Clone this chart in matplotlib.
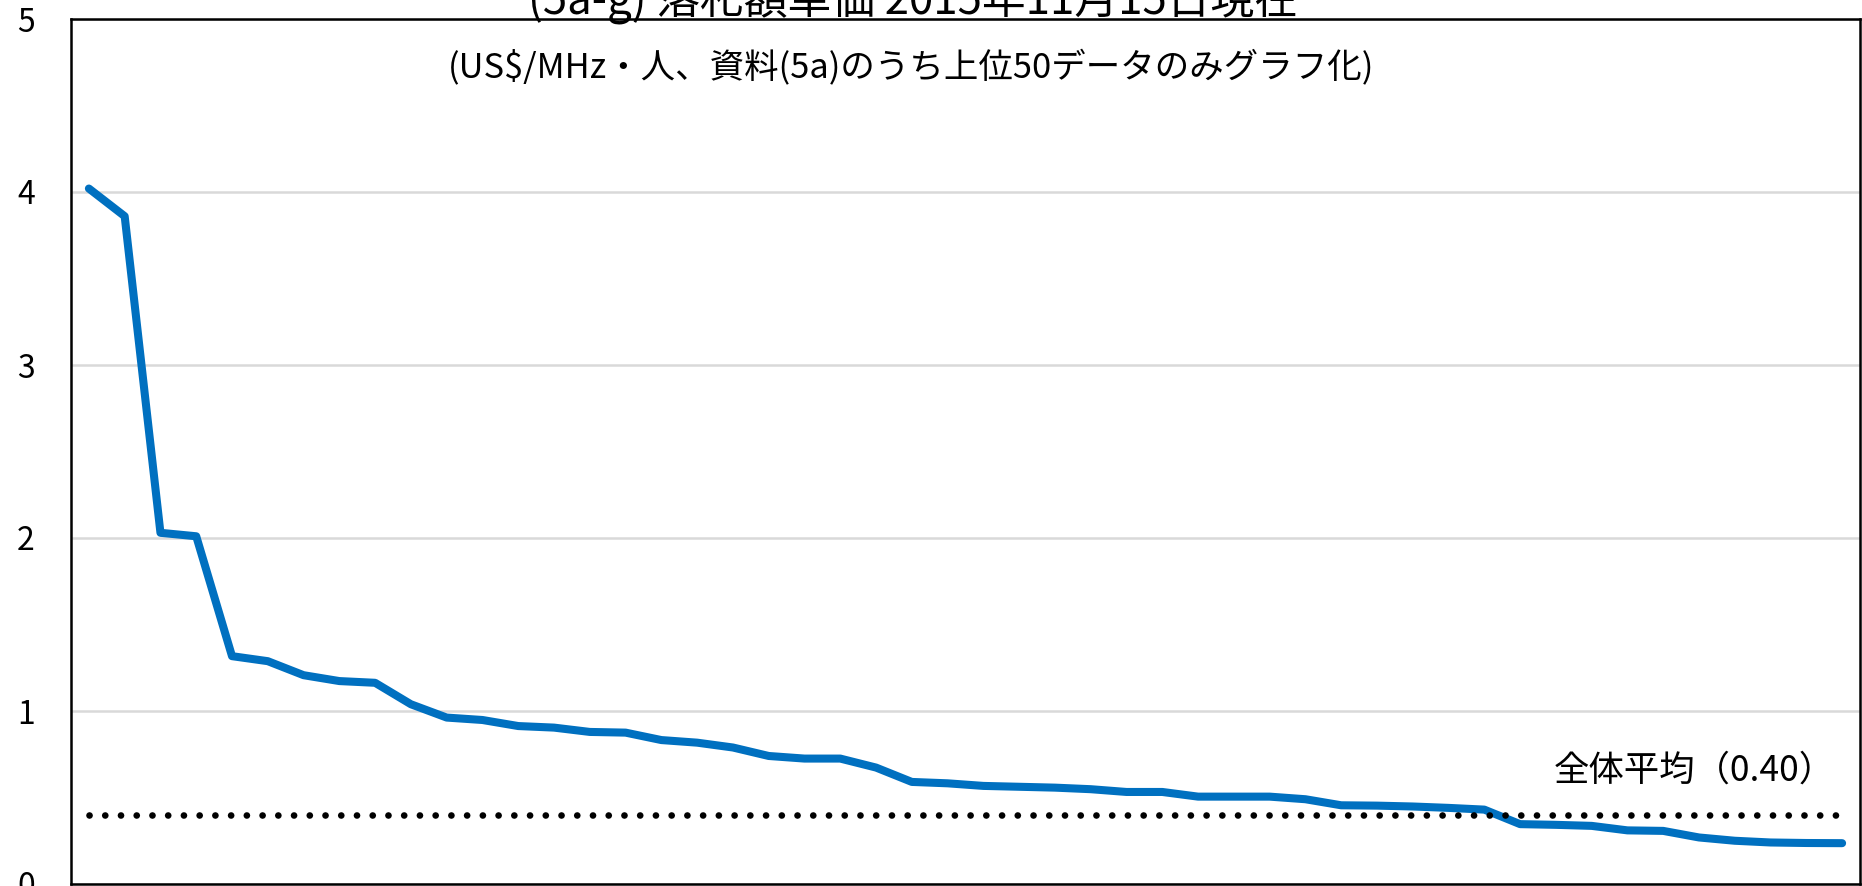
import numpy as np
import matplotlib
matplotlib.use('Agg')
import matplotlib.pyplot as plt

plt.rcParams['font.family'] = ['Noto Sans CJK JP', 'DejaVu Sans']

# 落札額単価（上位50データ）
rank = np.arange(1, 51)
unit_price = [4.02, 3.86, 2.03, 2.01, 1.317, 1.288, 1.207, 1.173, 1.163, 1.039,
              0.962, 0.948, 0.913, 0.904, 0.879, 0.875, 0.832, 0.817, 0.789, 0.74,
              0.725, 0.725, 0.673, 0.59, 0.582, 0.567, 0.562, 0.557, 0.548, 0.532,
              0.532, 0.505, 0.505, 0.505, 0.49, 0.455, 0.453, 0.448, 0.44, 0.43,
              0.346, 0.342, 0.336, 0.31, 0.307, 0.269, 0.25, 0.24, 0.237, 0.236]
overall_mean = 0.40
y_ticks = [0, 1, 2, 3, 4, 5]

title = '(5a-g) 落札額単価 2015年11月15日現在'
subtitle = '(US$/MHz・人、資料(5a)のうち上位50データのみグラフ化)'
mean_label = '全体平均（0.40）'

W, H = 1862, 886
fig = plt.figure(figsize=(W / 100, H / 100), dpi=100)
ax = fig.add_axes([71 / W, 2 / H, (1860 - 71) / W, (884 - 19) / H])

ax.plot(rank, unit_price, color='#0070C0', lw=5.8, solid_capstyle='round',
        solid_joinstyle='round', zorder=3)
ax.plot([rank[0], rank[-1]], [overall_mean, overall_mean], color='black', lw=4.8,
        ls=(0, (0.01, 2.35)), dash_capstyle='round', zorder=4)

ax.set_xlim(0.5, 50.5)
ax.set_ylim(0, 5)
ax.set_xticks([])
ax.set_yticks(y_ticks)
ax.tick_params(axis='y', length=0, pad=26, labelsize=23)
ax.grid(axis='y', color='#D9D9D9', lw=1.8)
ax.set_axisbelow(True)
for s in ax.spines.values():
    s.set_linewidth(1.8)
    s.set_color('black')

fig.text(913 / W, 1 - 13 / H, title, ha='center', va='baseline', fontsize=31.5)
fig.text(911 / W, 1 - 68 / H, subtitle, ha='center', va='center', fontsize=24.8)
ax.text(1694 / W, 1 - 771 / H, mean_label, transform=fig.transFigure,
        ha='center', va='center', fontsize=25.5)

fig.savefig('out.png', dpi=100)
